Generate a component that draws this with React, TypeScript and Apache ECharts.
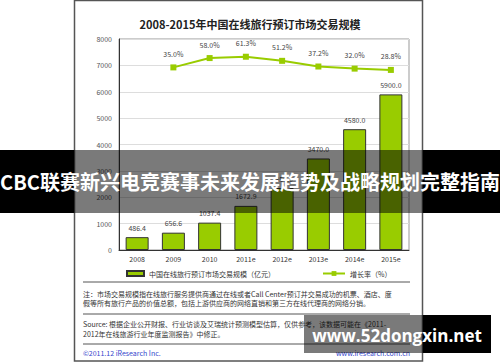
import React, { useEffect, useRef } from "react";
import * as echarts from "echarts";

const categories = ["2008", "2009", "2010", "2011e", "2012e", "2013e", "2014e", "2015e"];
const marketSize = [486.4, 656.6, 1037.4, 1672.9, 2350.0, 3470.0, 4580.0, 5900.0];
const growthRate = [null, 35.0, 58.0, 61.3, 51.2, 37.2, 32.0, 28.8];
const yTicks = [0, 1000, 2000, 3000, 4000, 5000, 6000, 7000, 8000];

const barName = "中国在线旅行预订市场交易规模（亿元）";
const lineName = "增长率（%）";
const titleText = "2008-2015年中国在线旅行预订市场交易规模";
const note1 = "注：市场交易规模指在线旅行服务提供商通过在线或者Call Center预订并交易成功的机票、酒店、度";
const note2 = "假等所有旅行产品的价值总额，包括上游供应商的网络直销和第三方在线代理商的网络分销。";
const src1 = "Source: 根据企业公开财报、行业访谈及艾瑞统计预测模型估算，仅供参考，该数据可能在《2011-";
const src2 = "2012年在线旅游行业年度监测报告》中修正。";
const footL = "©2011.12 iResearch Inc.";
const footR = "www.iresearch.com.cn";
const bannerText = "CBC联赛新兴电竞赛事未来发展趋势及战略规划完整指南";
const watermark = "www.52dongxin.net";

const FONT = "'Noto Sans CJK SC', 'Noto Sans', sans-serif";

export default function App() {
  const ref = useRef<HTMLDivElement>(null);
  useEffect(() => {
    if (!ref.current) return;
    const chart = echarts.init(ref.current, undefined, { renderer: "svg" });
    const green = "#99cc00";
    const smallText = (x: number, y: number, text: string, extra: any = {}) => ({
      type: "text",
      x,
      y,
      z: 10,
      style: { text, fill: "#333", fontSize: 7, fontFamily: FONT, textVerticalAlign: "middle", ...extra },
    });
    const hline = (y: number) => ({
      type: "line",
      z: 10,
      shape: { x1: 83, y1: y, x2: 410, y2: y },
      style: { stroke: "#555", lineWidth: 1 },
    });
    chart.setOption({
      animation: false,
      backgroundColor: "#fff",
      textStyle: { fontFamily: FONT },
      title: {
        text: titleText,
        left: "center",
        top: 13,
        textStyle: { fontSize: 11, fontWeight: "bold", color: "#222", fontFamily: FONT },
      },
      grid: {
        left: 119,
        right: 91,
        top: 39,
        bottom: 112,
        show: true,
        borderColor: "#999",
        borderWidth: 1,
        containLabel: false,
      },
      legend: [
        {
          data: [{ name: barName, icon: "rect" }],
          left: 121,
          top: 265,
          itemWidth: 17,
          itemHeight: 5,
          textStyle: { fontSize: 7, color: "#333", fontFamily: FONT },
          itemGap: 4,
        },
        {
          data: [lineName],
          left: 317,
          top: 265,
          itemWidth: 22,
          itemHeight: 6,
          textStyle: { fontSize: 7, color: "#333", fontFamily: FONT },
        },
      ],
      xAxis: {
        type: "category",
        data: categories,
        axisLine: { lineStyle: { color: "#333", width: 1 } },
        axisTick: { show: false },
        axisLabel: { fontSize: 7, color: "#333", margin: 5 },
      },
      yAxis: [
        {
          type: "value",
          min: yTicks[0],
          max: yTicks[yTicks.length - 1],
          interval: 1000,
          axisLine: { show: true, lineStyle: { color: "#333", width: 1 } },
          axisTick: { show: false },
          axisLabel: { fontSize: 7, color: "#555", margin: 7, formatter: (v: number) => String(v) },
          splitLine: { lineStyle: { color: "#ddd", width: 1 } },
        },
        {
          type: "value",
          min: -415,
          max: 105,
          show: false,
          splitLine: { show: false },
        },
      ],
      series: [
        {
          name: barName,
          type: "bar",
          data: marketSize,
          barWidth: 23,
          itemStyle: { color: green, borderColor: "#333", borderWidth: 1 },
          label: {
            show: true,
            position: "top",
            distance: 6,
            fontSize: 7,
            color: "#444",
            formatter: (p: any) => Number(p.value).toFixed(1),
          },
        },
        {
          name: lineName,
          type: "line",
          yAxisIndex: 1,
          data: growthRate,
          symbol: "rect",
          symbolSize: 6,
          lineStyle: { color: green, width: 2 },
          itemStyle: { color: green },
          label: {
            show: true,
            position: "top",
            distance: 7,
            fontSize: 7,
            color: "#444",
            formatter: (p: any) => Number(p.value).toFixed(1) + "%",
          },
        },
      ],
      graphic: [
        {
          type: "rect",
          z: 5,
          shape: { x: 74.5, y: 0.5, width: 348, height: 360.5 },
          style: { fill: "none", stroke: "#555", lineWidth: 1.5 },
        },
        hline(282),
        hline(314),
        hline(344),
        smallText(83, 294, note1),
        smallText(83, 303, note2),
        smallText(83, 324, src1),
        smallText(83, 334, src2),
        smallText(83, 353, footL, { fill: "#3344cc" }),
        smallText(410, 353, footR, { fill: "#3344cc", textAlign: "right" }),
        // banner
        { type: "rect", z: 50, shape: { x: 0, y: 150, width: 74, height: 63 }, style: { fill: "#000" } },
        { type: "rect", z: 50, shape: { x: 423, y: 150, width: 77, height: 63 }, style: { fill: "#000" } },
        { type: "rect", z: 50, shape: { x: 74, y: 150, width: 349, height: 63 }, style: { fill: "rgba(0,0,0,0.52)" } },
        {
          type: "text",
          z: 51,
          x: 250,
          y: 181,
          style: {
            text: bannerText,
            fill: "#fff",
            fontSize: 20,
            fontWeight: "bold",
            fontFamily: FONT,
            textAlign: "center",
            textVerticalAlign: "middle",
          },
        },
        // watermark
        { type: "rect", z: 50, shape: { x: 304, y: 315, width: 119, height: 38 }, style: { fill: "rgba(0,0,0,0.52)" } },
        { type: "rect", z: 50, shape: { x: 423, y: 315, width: 68, height: 38 }, style: { fill: "#000" } },
        {
          type: "text",
          z: 51,
          x: 397,
          y: 335,
          style: {
            text: watermark,
            fill: "#fff",
            fontSize: 17,
            fontWeight: "bold",
            fontFamily: "'Open Sans', 'DejaVu Sans', sans-serif",
            textAlign: "center",
            textVerticalAlign: "middle",
          },
        },
      ],
    });
    return () => chart.dispose();
  }, []);
  return (
    <div
      ref={ref}
      style={{ position: "fixed", left: 0, top: 0, width: 500, height: 362 }}
    />
  );
}
